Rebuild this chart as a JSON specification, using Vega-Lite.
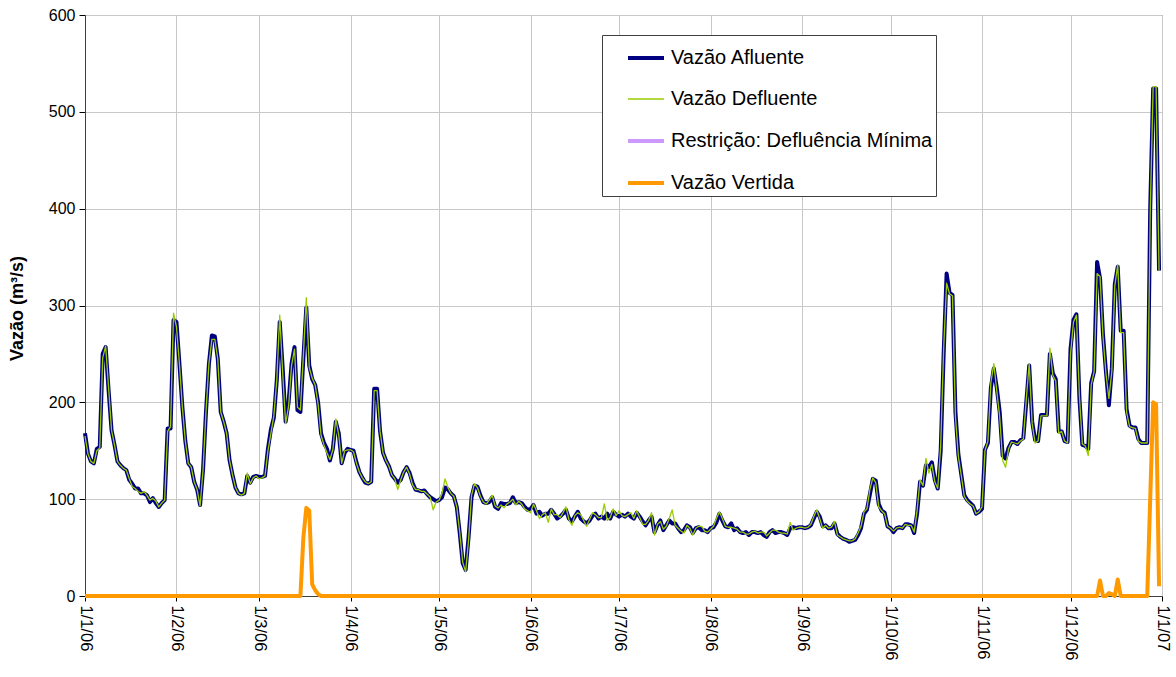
{
"$schema":"https://vega.github.io/schema/vega-lite/v6.json",
"width":1077,"height":581,
"autosize":{"type":"none"},
"padding":{"left":85,"top":15,"right":14,"bottom":81},
"background":"white",
"config":{"font":"Liberation Sans","view":{"stroke":"#808080","strokeWidth":1}},
"data":{"values":[
{"d":"2006-01-01","a":168,"f":165,"v":0},
{"d":"2006-01-02","a":147,"f":147,"v":0},
{"d":"2006-01-03","a":139,"f":139,"v":0},
{"d":"2006-01-04","a":137,"f":137,"v":0},
{"d":"2006-01-05","a":152,"f":150,"v":0},
{"d":"2006-01-06","a":154,"f":153,"v":0},
{"d":"2006-01-07","a":250,"f":246,"v":0},
{"d":"2006-01-08","a":257,"f":258,"v":0},
{"d":"2006-01-09","a":212,"f":215,"v":0},
{"d":"2006-01-10","a":171,"f":171,"v":0},
{"d":"2006-01-11","a":156,"f":156,"v":0},
{"d":"2006-01-12","a":139,"f":139,"v":0},
{"d":"2006-01-13","a":135,"f":135,"v":0},
{"d":"2006-01-14","a":132,"f":132,"v":0},
{"d":"2006-01-15","a":130,"f":130,"v":0},
{"d":"2006-01-16","a":120,"f":121,"v":0},
{"d":"2006-01-17","a":116,"f":113,"v":0},
{"d":"2006-01-18","a":111,"f":111,"v":0},
{"d":"2006-01-19","a":111,"f":108,"v":0},
{"d":"2006-01-20","a":106,"f":106,"v":0},
{"d":"2006-01-21","a":106,"f":108,"v":0},
{"d":"2006-01-22","a":104,"f":104,"v":0},
{"d":"2006-01-23","a":97,"f":99,"v":0},
{"d":"2006-01-24","a":101,"f":101,"v":0},
{"d":"2006-01-25","a":96,"f":98,"v":0},
{"d":"2006-01-26","a":92,"f":92,"v":0},
{"d":"2006-01-27","a":96,"f":96,"v":0},
{"d":"2006-01-28","a":99,"f":99,"v":0},
{"d":"2006-01-29","a":173,"f":170,"v":0},
{"d":"2006-01-30","a":173,"f":175,"v":0},
{"d":"2006-01-31","a":285,"f":292,"v":0},
{"d":"2006-02-01","a":283,"f":278,"v":0},
{"d":"2006-02-02","a":240,"f":240,"v":0},
{"d":"2006-02-03","a":195,"f":195,"v":0},
{"d":"2006-02-04","a":160,"f":160,"v":0},
{"d":"2006-02-05","a":137,"f":137,"v":0},
{"d":"2006-02-06","a":133,"f":133,"v":0},
{"d":"2006-02-07","a":118,"f":118,"v":0},
{"d":"2006-02-08","a":110,"f":110,"v":0},
{"d":"2006-02-09","a":94,"f":93,"v":0},
{"d":"2006-02-10","a":130,"f":130,"v":0},
{"d":"2006-02-11","a":190,"f":190,"v":0},
{"d":"2006-02-12","a":240,"f":240,"v":0},
{"d":"2006-02-13","a":269,"f":265,"v":0},
{"d":"2006-02-14","a":268,"f":265,"v":0},
{"d":"2006-02-15","a":245,"f":245,"v":0},
{"d":"2006-02-16","a":190,"f":190,"v":0},
{"d":"2006-02-17","a":180,"f":180,"v":0},
{"d":"2006-02-18","a":168,"f":168,"v":0},
{"d":"2006-02-19","a":140,"f":140,"v":0},
{"d":"2006-02-20","a":125,"f":125,"v":0},
{"d":"2006-02-21","a":112,"f":112,"v":0},
{"d":"2006-02-22","a":106,"f":106,"v":0},
{"d":"2006-02-23","a":105,"f":104,"v":0},
{"d":"2006-02-24","a":106,"f":106,"v":0},
{"d":"2006-02-25","a":124,"f":127,"v":0},
{"d":"2006-02-26","a":117,"f":116,"v":0},
{"d":"2006-02-27","a":123,"f":122,"v":0},
{"d":"2006-02-28","a":124,"f":124,"v":0},
{"d":"2006-03-01","a":123,"f":121,"v":0},
{"d":"2006-03-02","a":123,"f":122,"v":0},
{"d":"2006-03-03","a":124,"f":124,"v":0},
{"d":"2006-03-04","a":152,"f":150,"v":0},
{"d":"2006-03-05","a":172,"f":168,"v":0},
{"d":"2006-03-06","a":184,"f":186,"v":0},
{"d":"2006-03-07","a":223,"f":223,"v":0},
{"d":"2006-03-08","a":283,"f":290,"v":0},
{"d":"2006-03-09","a":235,"f":230,"v":0},
{"d":"2006-03-10","a":180,"f":178,"v":0},
{"d":"2006-03-11","a":200,"f":196,"v":0},
{"d":"2006-03-12","a":240,"f":238,"v":0},
{"d":"2006-03-13","a":257,"f":255,"v":0},
{"d":"2006-03-14","a":192,"f":195,"v":0},
{"d":"2006-03-15","a":190,"f":192,"v":0},
{"d":"2006-03-16","a":245,"f":248,"v":60},
{"d":"2006-03-17","a":298,"f":308,"v":91},
{"d":"2006-03-18","a":238,"f":236,"v":88},
{"d":"2006-03-19","a":224,"f":225,"v":12},
{"d":"2006-03-20","a":218,"f":218,"v":6},
{"d":"2006-03-21","a":200,"f":198,"v":2},
{"d":"2006-03-22","a":168,"f":166,"v":0},
{"d":"2006-03-23","a":158,"f":156,"v":0},
{"d":"2006-03-24","a":152,"f":148,"v":0},
{"d":"2006-03-25","a":140,"f":141,"v":0},
{"d":"2006-03-26","a":152,"f":151,"v":0},
{"d":"2006-03-27","a":180,"f":183,"v":0},
{"d":"2006-03-28","a":168,"f":166,"v":0},
{"d":"2006-03-29","a":137,"f":137,"v":0},
{"d":"2006-03-30","a":148,"f":150,"v":0},
{"d":"2006-03-31","a":152,"f":151,"v":0},
{"d":"2006-04-01","a":151,"f":151,"v":0},
{"d":"2006-04-02","a":150,"f":149,"v":0},
{"d":"2006-04-03","a":138,"f":137,"v":0},
{"d":"2006-04-04","a":128,"f":128,"v":0},
{"d":"2006-04-05","a":122,"f":122,"v":0},
{"d":"2006-04-06","a":117,"f":118,"v":0},
{"d":"2006-04-07","a":116,"f":116,"v":0},
{"d":"2006-04-08","a":118,"f":118,"v":0},
{"d":"2006-04-09","a":214,"f":212,"v":0},
{"d":"2006-04-10","a":214,"f":212,"v":0},
{"d":"2006-04-11","a":170,"f":170,"v":0},
{"d":"2006-04-12","a":148,"f":148,"v":0},
{"d":"2006-04-13","a":140,"f":140,"v":0},
{"d":"2006-04-14","a":134,"f":134,"v":0},
{"d":"2006-04-15","a":125,"f":125,"v":0},
{"d":"2006-04-16","a":121,"f":121,"v":0},
{"d":"2006-04-17","a":117,"f":110,"v":0},
{"d":"2006-04-18","a":120,"f":120,"v":0},
{"d":"2006-04-19","a":128,"f":128,"v":0},
{"d":"2006-04-20","a":133,"f":133,"v":0},
{"d":"2006-04-21","a":127,"f":126,"v":0},
{"d":"2006-04-22","a":117,"f":115,"v":0},
{"d":"2006-04-23","a":110,"f":110,"v":0},
{"d":"2006-04-24","a":109,"f":110,"v":0},
{"d":"2006-04-25","a":108,"f":108,"v":0},
{"d":"2006-04-26","a":109,"f":108,"v":0},
{"d":"2006-04-27","a":105,"f":105,"v":0},
{"d":"2006-04-28","a":102,"f":102,"v":0},
{"d":"2006-04-29","a":100,"f":89,"v":0},
{"d":"2006-04-30","a":98,"f":97,"v":0},
{"d":"2006-05-01","a":99,"f":99,"v":0},
{"d":"2006-05-02","a":102,"f":106,"v":0},
{"d":"2006-05-03","a":112,"f":121,"v":0},
{"d":"2006-05-04","a":110,"f":112,"v":0},
{"d":"2006-05-05","a":106,"f":106,"v":0},
{"d":"2006-05-06","a":103,"f":103,"v":0},
{"d":"2006-05-07","a":92,"f":92,"v":0},
{"d":"2006-05-08","a":65,"f":66,"v":0},
{"d":"2006-05-09","a":34,"f":35,"v":0},
{"d":"2006-05-10","a":27,"f":25,"v":0},
{"d":"2006-05-11","a":61,"f":58,"v":0},
{"d":"2006-05-12","a":102,"f":104,"v":0},
{"d":"2006-05-13","a":114,"f":116,"v":0},
{"d":"2006-05-14","a":113,"f":112,"v":0},
{"d":"2006-05-15","a":104,"f":103,"v":0},
{"d":"2006-05-16","a":97,"f":97,"v":0},
{"d":"2006-05-17","a":96,"f":95,"v":0},
{"d":"2006-05-18","a":97,"f":99,"v":0},
{"d":"2006-05-19","a":102,"f":104,"v":0},
{"d":"2006-05-20","a":92,"f":93,"v":0},
{"d":"2006-05-21","a":90,"f":91,"v":0},
{"d":"2006-05-22","a":96,"f":94,"v":0},
{"d":"2006-05-23","a":95,"f":91,"v":0},
{"d":"2006-05-24","a":95,"f":95,"v":0},
{"d":"2006-05-25","a":96,"f":97,"v":0},
{"d":"2006-05-26","a":102,"f":100,"v":0},
{"d":"2006-05-27","a":96,"f":94,"v":0},
{"d":"2006-05-28","a":97,"f":98,"v":0},
{"d":"2006-05-29","a":96,"f":95,"v":0},
{"d":"2006-05-30","a":92,"f":90,"v":0},
{"d":"2006-05-31","a":89,"f":88,"v":0},
{"d":"2006-06-01","a":90,"f":86,"v":0},
{"d":"2006-06-02","a":94,"f":95,"v":0},
{"d":"2006-06-03","a":85,"f":88,"v":0},
{"d":"2006-06-04","a":87,"f":80,"v":0},
{"d":"2006-06-05","a":83,"f":84,"v":0},
{"d":"2006-06-06","a":85,"f":86,"v":0},
{"d":"2006-06-07","a":85,"f":76,"v":0},
{"d":"2006-06-08","a":89,"f":90,"v":0},
{"d":"2006-06-09","a":85,"f":84,"v":0},
{"d":"2006-06-10","a":80,"f":84,"v":0},
{"d":"2006-06-11","a":82,"f":81,"v":0},
{"d":"2006-06-12","a":85,"f":86,"v":0},
{"d":"2006-06-13","a":89,"f":92,"v":0},
{"d":"2006-06-14","a":80,"f":79,"v":0},
{"d":"2006-06-15","a":77,"f":73,"v":0},
{"d":"2006-06-16","a":82,"f":83,"v":0},
{"d":"2006-06-17","a":87,"f":86,"v":0},
{"d":"2006-06-18","a":80,"f":84,"v":0},
{"d":"2006-06-19","a":77,"f":78,"v":0},
{"d":"2006-06-20","a":75,"f":72,"v":0},
{"d":"2006-06-21","a":78,"f":79,"v":0},
{"d":"2006-06-22","a":83,"f":86,"v":0},
{"d":"2006-06-23","a":85,"f":84,"v":0},
{"d":"2006-06-24","a":80,"f":81,"v":0},
{"d":"2006-06-25","a":82,"f":81,"v":0},
{"d":"2006-06-26","a":80,"f":95,"v":0},
{"d":"2006-06-27","a":85,"f":78,"v":0},
{"d":"2006-06-28","a":80,"f":81,"v":0},
{"d":"2006-06-29","a":87,"f":90,"v":0},
{"d":"2006-06-30","a":84,"f":83,"v":0},
{"d":"2006-07-01","a":82,"f":88,"v":0},
{"d":"2006-07-02","a":84,"f":83,"v":0},
{"d":"2006-07-03","a":82,"f":82,"v":0},
{"d":"2006-07-04","a":85,"f":84,"v":0},
{"d":"2006-07-05","a":82,"f":86,"v":0},
{"d":"2006-07-06","a":80,"f":80,"v":0},
{"d":"2006-07-07","a":86,"f":88,"v":0},
{"d":"2006-07-08","a":82,"f":81,"v":0},
{"d":"2006-07-09","a":77,"f":74,"v":0},
{"d":"2006-07-10","a":73,"f":74,"v":0},
{"d":"2006-07-11","a":78,"f":78,"v":0},
{"d":"2006-07-12","a":82,"f":86,"v":0},
{"d":"2006-07-13","a":66,"f":63,"v":0},
{"d":"2006-07-14","a":73,"f":74,"v":0},
{"d":"2006-07-15","a":78,"f":77,"v":0},
{"d":"2006-07-16","a":68,"f":69,"v":0},
{"d":"2006-07-17","a":73,"f":72,"v":0},
{"d":"2006-07-18","a":78,"f":80,"v":0},
{"d":"2006-07-19","a":75,"f":89,"v":0},
{"d":"2006-07-20","a":75,"f":73,"v":0},
{"d":"2006-07-21","a":70,"f":70,"v":0},
{"d":"2006-07-22","a":66,"f":67,"v":0},
{"d":"2006-07-23","a":68,"f":65,"v":0},
{"d":"2006-07-24","a":73,"f":73,"v":0},
{"d":"2006-07-25","a":71,"f":70,"v":0},
{"d":"2006-07-26","a":65,"f":63,"v":0},
{"d":"2006-07-27","a":70,"f":70,"v":0},
{"d":"2006-07-28","a":71,"f":72,"v":0},
{"d":"2006-07-29","a":68,"f":72,"v":0},
{"d":"2006-07-30","a":68,"f":67,"v":0},
{"d":"2006-07-31","a":66,"f":66,"v":0},
{"d":"2006-08-01","a":70,"f":69,"v":0},
{"d":"2006-08-02","a":71,"f":72,"v":0},
{"d":"2006-08-03","a":76,"f":80,"v":0},
{"d":"2006-08-04","a":85,"f":87,"v":0},
{"d":"2006-08-05","a":78,"f":80,"v":0},
{"d":"2006-08-06","a":72,"f":72,"v":0},
{"d":"2006-08-07","a":71,"f":71,"v":0},
{"d":"2006-08-08","a":75,"f":71,"v":0},
{"d":"2006-08-09","a":68,"f":70,"v":0},
{"d":"2006-08-10","a":70,"f":69,"v":0},
{"d":"2006-08-11","a":66,"f":66,"v":0},
{"d":"2006-08-12","a":65,"f":66,"v":0},
{"d":"2006-08-13","a":66,"f":64,"v":0},
{"d":"2006-08-14","a":63,"f":64,"v":0},
{"d":"2006-08-15","a":66,"f":66,"v":0},
{"d":"2006-08-16","a":66,"f":67,"v":0},
{"d":"2006-08-17","a":65,"f":65,"v":0},
{"d":"2006-08-18","a":66,"f":66,"v":0},
{"d":"2006-08-19","a":63,"f":66,"v":0},
{"d":"2006-08-20","a":61,"f":62,"v":0},
{"d":"2006-08-21","a":66,"f":65,"v":0},
{"d":"2006-08-22","a":68,"f":68,"v":0},
{"d":"2006-08-23","a":65,"f":68,"v":0},
{"d":"2006-08-24","a":66,"f":66,"v":0},
{"d":"2006-08-25","a":66,"f":65,"v":0},
{"d":"2006-08-26","a":65,"f":65,"v":0},
{"d":"2006-08-27","a":63,"f":64,"v":0},
{"d":"2006-08-28","a":70,"f":76,"v":0},
{"d":"2006-08-29","a":71,"f":68,"v":0},
{"d":"2006-08-30","a":70,"f":70,"v":0},
{"d":"2006-08-31","a":71,"f":71,"v":0},
{"d":"2006-09-01","a":71,"f":71,"v":0},
{"d":"2006-09-02","a":70,"f":70,"v":0},
{"d":"2006-09-03","a":71,"f":71,"v":0},
{"d":"2006-09-04","a":73,"f":74,"v":0},
{"d":"2006-09-05","a":80,"f":82,"v":0},
{"d":"2006-09-06","a":87,"f":89,"v":0},
{"d":"2006-09-07","a":82,"f":80,"v":0},
{"d":"2006-09-08","a":72,"f":70,"v":0},
{"d":"2006-09-09","a":73,"f":73,"v":0},
{"d":"2006-09-10","a":70,"f":70,"v":0},
{"d":"2006-09-11","a":70,"f":71,"v":0},
{"d":"2006-09-12","a":75,"f":77,"v":0},
{"d":"2006-09-13","a":64,"f":63,"v":0},
{"d":"2006-09-14","a":61,"f":61,"v":0},
{"d":"2006-09-15","a":59,"f":59,"v":0},
{"d":"2006-09-16","a":58,"f":58,"v":0},
{"d":"2006-09-17","a":56,"f":57,"v":0},
{"d":"2006-09-18","a":57,"f":57,"v":0},
{"d":"2006-09-19","a":58,"f":59,"v":0},
{"d":"2006-09-20","a":63,"f":65,"v":0},
{"d":"2006-09-21","a":70,"f":72,"v":0},
{"d":"2006-09-22","a":85,"f":87,"v":0},
{"d":"2006-09-23","a":89,"f":90,"v":0},
{"d":"2006-09-24","a":105,"f":110,"v":0},
{"d":"2006-09-25","a":121,"f":122,"v":0},
{"d":"2006-09-26","a":119,"f":117,"v":0},
{"d":"2006-09-27","a":95,"f":92,"v":0},
{"d":"2006-09-28","a":88,"f":88,"v":0},
{"d":"2006-09-29","a":86,"f":85,"v":0},
{"d":"2006-09-30","a":72,"f":72,"v":0},
{"d":"2006-10-01","a":70,"f":70,"v":0},
{"d":"2006-10-02","a":66,"f":67,"v":0},
{"d":"2006-10-03","a":70,"f":70,"v":0},
{"d":"2006-10-04","a":71,"f":71,"v":0},
{"d":"2006-10-05","a":70,"f":70,"v":0},
{"d":"2006-10-06","a":74,"f":74,"v":0},
{"d":"2006-10-07","a":74,"f":73,"v":0},
{"d":"2006-10-08","a":73,"f":73,"v":0},
{"d":"2006-10-09","a":65,"f":66,"v":0},
{"d":"2006-10-10","a":85,"f":88,"v":0},
{"d":"2006-10-11","a":118,"f":120,"v":0},
{"d":"2006-10-12","a":114,"f":114,"v":0},
{"d":"2006-10-13","a":135,"f":142,"v":0},
{"d":"2006-10-14","a":133,"f":127,"v":0},
{"d":"2006-10-15","a":138,"f":136,"v":0},
{"d":"2006-10-16","a":120,"f":118,"v":0},
{"d":"2006-10-17","a":111,"f":111,"v":0},
{"d":"2006-10-18","a":150,"f":155,"v":0},
{"d":"2006-10-19","a":250,"f":255,"v":0},
{"d":"2006-10-20","a":333,"f":323,"v":0},
{"d":"2006-10-21","a":313,"f":312,"v":0},
{"d":"2006-10-22","a":311,"f":310,"v":0},
{"d":"2006-10-23","a":190,"f":185,"v":0},
{"d":"2006-10-24","a":146,"f":144,"v":0},
{"d":"2006-10-25","a":125,"f":124,"v":0},
{"d":"2006-10-26","a":104,"f":103,"v":0},
{"d":"2006-10-27","a":99,"f":98,"v":0},
{"d":"2006-10-28","a":96,"f":95,"v":0},
{"d":"2006-10-29","a":93,"f":93,"v":0},
{"d":"2006-10-30","a":85,"f":85,"v":0},
{"d":"2006-10-31","a":87,"f":87,"v":0},
{"d":"2006-11-01","a":90,"f":92,"v":0},
{"d":"2006-11-02","a":151,"f":150,"v":0},
{"d":"2006-11-03","a":158,"f":160,"v":0},
{"d":"2006-11-04","a":215,"f":220,"v":0},
{"d":"2006-11-05","a":235,"f":240,"v":0},
{"d":"2006-11-06","a":215,"f":212,"v":0},
{"d":"2006-11-07","a":190,"f":185,"v":0},
{"d":"2006-11-08","a":145,"f":140,"v":0},
{"d":"2006-11-09","a":142,"f":133,"v":0},
{"d":"2006-11-10","a":153,"f":152,"v":0},
{"d":"2006-11-11","a":159,"f":159,"v":0},
{"d":"2006-11-12","a":159,"f":158,"v":0},
{"d":"2006-11-13","a":157,"f":157,"v":0},
{"d":"2006-11-14","a":161,"f":160,"v":0},
{"d":"2006-11-15","a":163,"f":162,"v":0},
{"d":"2006-11-16","a":200,"f":203,"v":0},
{"d":"2006-11-17","a":238,"f":240,"v":0},
{"d":"2006-11-18","a":180,"f":178,"v":0},
{"d":"2006-11-19","a":161,"f":158,"v":0},
{"d":"2006-11-20","a":160,"f":160,"v":0},
{"d":"2006-11-21","a":187,"f":186,"v":0},
{"d":"2006-11-22","a":187,"f":186,"v":0},
{"d":"2006-11-23","a":187,"f":186,"v":0},
{"d":"2006-11-24","a":250,"f":256,"v":0},
{"d":"2006-11-25","a":230,"f":228,"v":0},
{"d":"2006-11-26","a":224,"f":222,"v":0},
{"d":"2006-11-27","a":170,"f":168,"v":0},
{"d":"2006-11-28","a":170,"f":170,"v":0},
{"d":"2006-11-29","a":160,"f":160,"v":0},
{"d":"2006-11-30","a":159,"f":158,"v":0},
{"d":"2006-12-01","a":255,"f":250,"v":0},
{"d":"2006-12-02","a":285,"f":283,"v":0},
{"d":"2006-12-03","a":291,"f":290,"v":0},
{"d":"2006-12-04","a":205,"f":207,"v":0},
{"d":"2006-12-05","a":156,"f":157,"v":0},
{"d":"2006-12-06","a":155,"f":155,"v":0},
{"d":"2006-12-07","a":152,"f":145,"v":0},
{"d":"2006-12-08","a":220,"f":218,"v":0},
{"d":"2006-12-09","a":232,"f":232,"v":0},
{"d":"2006-12-10","a":345,"f":333,"v":0},
{"d":"2006-12-11","a":328,"f":330,"v":16},
{"d":"2006-12-12","a":270,"f":268,"v":0},
{"d":"2006-12-13","a":232,"f":230,"v":0},
{"d":"2006-12-14","a":197,"f":204,"v":3},
{"d":"2006-12-15","a":235,"f":232,"v":2},
{"d":"2006-12-16","a":322,"f":320,"v":0},
{"d":"2006-12-17","a":340,"f":342,"v":17},
{"d":"2006-12-18","a":274,"f":272,"v":0},
{"d":"2006-12-19","a":274,"f":272,"v":0},
{"d":"2006-12-20","a":193,"f":190,"v":0},
{"d":"2006-12-21","a":176,"f":175,"v":0},
{"d":"2006-12-22","a":174,"f":174,"v":0},
{"d":"2006-12-23","a":174,"f":173,"v":0},
{"d":"2006-12-24","a":162,"f":160,"v":0},
{"d":"2006-12-25","a":158,"f":158,"v":0},
{"d":"2006-12-26","a":158,"f":158,"v":0},
{"d":"2006-12-27","a":158,"f":158,"v":0},
{"d":"2006-12-28","a":400,"f":395,"v":100},
{"d":"2006-12-29","a":524,"f":526,"v":200},
{"d":"2006-12-30","a":524,"f":526,"v":198},
{"d":"2006-12-31","a":336,"f":336,"v":10}
]},
"transform":[{"fold":["a","f","v"],"as":["k","val"]}],
"mark":{"type":"line","strokeJoin":"round"},
"encoding":{
"x":{"field":"d","type":"temporal","title":null,
"scale":{"type":"utc","domain":[{"year":2006,"month":1,"date":1,"utc":true},{"year":2007,"month":1,"date":1,"utc":true}]},
"axis":{"format":"%-d/%-m/%y","tickCount":{"interval":"month","step":1},"labelAngle":90,"labelAlign":"left","labelBaseline":"middle","labelFontSize":16.5,"labelColor":"#000","labelPadding":4,"labelFlush":false,"labelOverlap":false,"tickSize":5,"tickColor":"#000","domainColor":"#404040","grid":true,"gridColor":"#C8C8C8","gridWidth":1}},
"y":{"field":"val","type":"quantitative",
"scale":{"domain":[0,600],"nice":false},
"axis":{"values":[0,100,200,300,400,500,600],"title":"Vazão (m³/s)","titleFontSize":18,"titleFontWeight":"bold","titleColor":"#000","titleX":-68,"titleY":293,"titleAngle":-90,"titleAlign":"center","titleBaseline":"middle","labelFontSize":16,"labelColor":"#000","labelPadding":4,"tickSize":6,"tickColor":"#000","domainColor":"#404040","grid":true,"gridColor":"#C8C8C8","gridWidth":1}},
"color":{"field":"k","type":"nominal",
"scale":{"domain":["a","f","r","v"],"range":["#000080","#99CC00","#CC99FF","#FF9900"]},
"legend":{"title":null,"orient":"none","legendX":517,"legendY":20,"symbolType":"stroke","symbolSize":1296,"symbolOffset":21,"labelOffset":5,"rowPadding":12,"padding":3,"labelFontSize":20,"labelColor":"#000","labelLimit":500,"fillColor":"white","strokeColor":"#404040",
"labelExpr":"{'a':'Vazão Afluente','f':'Vazão Defluente','r':'Restrição: Defluência Mínima','v':'Vazão Vertida'}[datum.label]"}},
"strokeWidth":{"field":"k","type":"nominal",
"scale":{"type":"ordinal","domain":["a","f","r","v"],"range":[4,1.3,4,4]},
"legend":{"title":null,"orient":"none","legendX":517,"legendY":20,"symbolType":"stroke","symbolSize":1296,"symbolOffset":21,"labelOffset":5,"rowPadding":12,"padding":3,"labelFontSize":20,"labelColor":"#000","labelLimit":500,"fillColor":"white","strokeColor":"#404040",
"labelExpr":"{'a':'Vazão Afluente','f':'Vazão Defluente','r':'Restrição: Defluência Mínima','v':'Vazão Vertida'}[datum.label]"}}
}
}
